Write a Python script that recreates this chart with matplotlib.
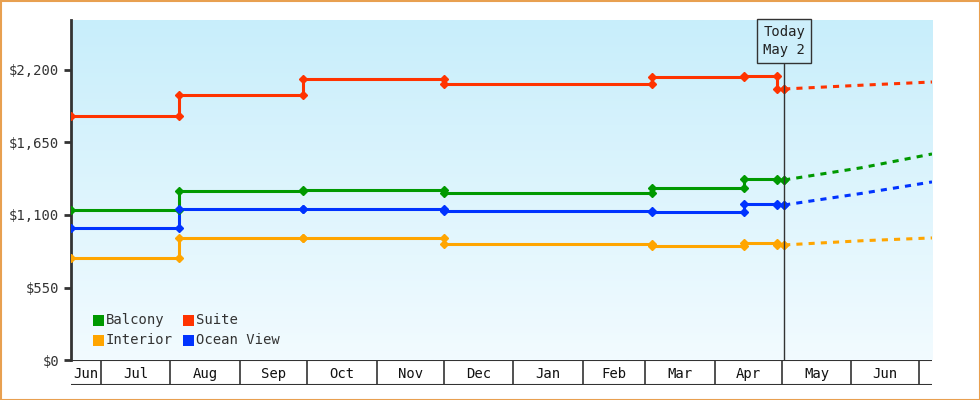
import matplotlib
matplotlib.use("Agg")
import matplotlib.pyplot as plt
import numpy as np
from matplotlib.patches import Rectangle

# days relative to Jul 1
change_days = [-13.4, 35, 90, 153, 246, 287, 302, 305]
suite    = [1852, 2011, 2132, 2094, 2147, 2155, 2056, 2056]
balcony  = [1140, 1282, 1290, 1267, 1305, 1373, 1366, 1366]
ocean    = [1002, 1146, 1146, 1130, 1123, 1184, 1176, 1176]
interior = [774, 926, 926, 880, 865, 888, 873, 873]
fc_days = [305, 340, 371]
fc_suite = [2056, 2085, 2109]
fc_balcony = [1366, 1460, 1563]
fc_ocean = [1176, 1265, 1351]
fc_interior = [873, 905, 926]
month_labels = ["Jun","Jul","Aug","Sep","Oct","Nov","Dec","Jan","Feb","Mar","Apr","May","Jun"]
month_bounds = [-13.4, 0, 31, 62, 92, 123, 153, 184, 215, 243, 274, 304, 335, 365]
yticks = [0, 550, 1100, 1650, 2200]
today = 305

W, H = 980, 400
fig = plt.figure(figsize=(9.8, 4), dpi=100)
fig.patch.set_facecolor("white")
fig.patches.append(Rectangle((0.5/W, 0.5/H), 1-1/W, 1-1/H, transform=fig.transFigure,
                             fill=False, ec="#e8a050", lw=1.5))
ax = fig.add_axes([71/W, 40/H, (932-71)/W, 340/H])
xmin, xmax = -13.4, 371
ymax = 2200 * 340 / 290
grad = np.linspace(0, 1, 256).reshape(-1, 1)
c_bottom = np.array([0xf2, 0xfb, 0xff]) / 255; c_top = np.array([0xc8, 0xee, 0xfb]) / 255
img = c_bottom + (c_top - c_bottom) * grad
ax.imshow(img.reshape(256, 1, 3), extent=[xmin, xmax, 0, ymax], origin="lower", aspect="auto", zorder=0)
ax.set_xlim(xmin, xmax); ax.set_ylim(0, ymax)

font = "DejaVu Sans Mono"
series = [("Balcony", balcony, fc_balcony, "#009900"),
          ("Suite", suite, fc_suite, "#ff3300"),
          ("Interior", interior, fc_interior, "#ffa500"),
          ("Ocean View", ocean, fc_ocean, "#0033ff")]
for name, vals, fc, col in series:
    xs, ys = [change_days[0]], [vals[0]]
    for i in range(1, len(change_days)):
        xs += [change_days[i], change_days[i]]
        ys += [vals[i-1], vals[i]]
    ax.plot(xs, ys, color=col, lw=2.2, zorder=3)
    ax.plot(xs, ys, ls="none", marker="D", ms=4.5, color=col, zorder=4)
    ax.plot(fc_days, fc, color=col, lw=2.2, ls=(0, (2, 2)), zorder=3)

box_bottom = (360 - 62) / 290 * 2200
ax.plot([today, today], [0, box_bottom], color="#333333", lw=1, zorder=5)
ax.text(today, (360 - 41) / 290 * 2200, "Today\nMay 2", ha="center", va="center", fontsize=10, family=font,
        color="#222222", linespacing=1.4,
        bbox=dict(boxstyle="square,pad=0.45", fc="#cdeffb", ec="#333333", lw=1), zorder=6)

for s in ["top", "right"]:
    ax.spines[s].set_visible(False)
ax.spines["left"].set_color("#333333"); ax.spines["left"].set_linewidth(2)
ax.spines["bottom"].set_visible(False)
ax.set_yticks(yticks)
ax.set_yticklabels(["$0", "$550", "$1,100", "$1,650", "$2,200"], family=font, fontsize=10, color="#333333")
ax.tick_params(axis="y", length=5, width=2, color="#333333")
ax.set_xticks([])

# month band
bax = fig.add_axes([71/W, 15/H, (932-71)/W, 25/H])
bax.set_xlim(xmin, xmax); bax.set_ylim(0, 1); bax.axis("off")
bax.plot([xmin, xmax], [1, 1], color="#333333", lw=1.5)
bax.plot([xmin, xmax], [0, 0], color="#333333", lw=1.5)
for b in month_bounds[1:]:
    bax.plot([b, b], [0, 1], color="#333333", lw=1.2)
for i, lab in enumerate(month_labels):
    a, b = month_bounds[i], min(month_bounds[i+1], xmax)
    bax.text((a+b)/2, 0.45, lab, ha="center", va="center", family=font, fontsize=10, color="#111111")

# legend
items = [("Balcony", "#009900", 0, 0), ("Suite", "#ff3300", 1, 0),
         ("Interior", "#ffa500", 0, 1), ("Ocean View", "#0033ff", 1, 1)]
for name, col, cx, cy in items:
    x = (93 + cx*90)/W; y = 1 - (320 + cy*20)/H
    fig.patches.append(Rectangle((x, y - 5.5/H), 11/W, 11/H, transform=fig.transFigure, fc=col, ec="none"))
    fig.text(x + 13/W, y, name, family=font, fontsize=10, va="center", color="#333333")

fig.savefig("out.png", dpi=100)
